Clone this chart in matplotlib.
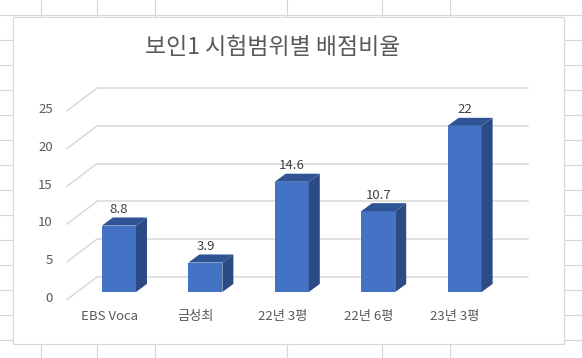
import matplotlib
matplotlib.use("Agg")
import matplotlib.pyplot as plt
from matplotlib.patches import Polygon, Rectangle
from matplotlib.lines import Line2D

plt.rcParams['font.family'] = ['Noto Sans CJK KR', 'DejaVu Sans']

# dados
categorias = ['EBS Voca', '금성최', '22년 3평', '22년 6평', '23년 3평']
valores = [8.8, 3.9, 14.6, 10.7, 22]
ticks_y = [0, 5, 10, 15, 20, 25]
titulo = '보인1 시험범위별 배점비율'

W, H = 582, 358
fig = plt.figure(figsize=(W / 100, H / 100), dpi=100)
fig.patch.set_facecolor('white')

# grade da planilha ao fundo
for xg in [41, 97, 155, 287, 382, 450]:
    fig.add_artist(Line2D([xg / W, xg / W], [0, 1], color='#d6d6d6', lw=0.8, zorder=-3))
for yg in range(15, 358, 25):
    fig.add_artist(Line2D([0, 1], [1 - yg / H, 1 - yg / H], color='#d6d6d6', lw=0.8, zorder=-3))

# area do grafico
fig.add_artist(Rectangle((12.5 / W, 1 - 343.5 / H), (564 - 12.5) / W, (343.5 - 16.7) / H,
                         facecolor='white', edgecolor='#d9d9d9', lw=0.9, zorder=-2))

# eixo: plano frontal das barras (x = indice, y = valor)
ax = fig.add_axes([58.5 / W, (358 - 314.65) / H, 466.6 / W, 241.6 / H])
ax.set_zorder(1)
ax.patch.set_visible(False)
ax.set_xlim(-0.7, 4.7)
ax.set_ylim(-3, 29)
ax.axis('off')

# deslocamentos de profundidade (pseudo 3D)
by = 2.0                  # parede do fundo
x_back_l, x_back_r = -0.255, 4.734
x_front_l, fy = -0.602, -1.0
largura = 0.394
ddx, ddy = 0.127, 1.07    # profundidade da barra

cinza = '#d9d9d9'
for t in ticks_y:
    ax.plot([x_back_l, x_back_r], [t + by, t + by], color=cinza, lw=1.1, clip_on=False, zorder=1)
    ax.plot([x_front_l, x_back_l], [t + fy, t + by], color=cinza, lw=1.1, clip_on=False, zorder=1)
    ax.text(x_front_l - 0.165, t + fy + 0.15, str(t), ha='right', va='center',
            fontsize=9.5, color='#595959')

frente, lado, topo = '#4472C4', '#2C4B86', '#2F5496'
xs = list(range(len(categorias)))
ax.bar(xs, valores, width=largura, color=frente, zorder=3, clip_on=False)
for x, v in zip(xs, valores):
    xl, xr = x - largura / 2, x + largura / 2
    ax.add_patch(Polygon([(xl, v), (xr, v), (xr + ddx, v + ddy), (xl + ddx, v + ddy)],
                         closed=True, facecolor=topo, edgecolor='none', zorder=3, clip_on=False))
    ax.add_patch(Polygon([(xr, 0), (xr + ddx, ddy), (xr + ddx, v + ddy), (xr, v)],
                         closed=True, facecolor=lado, edgecolor='none', zorder=3, clip_on=False))
    ax.text(x, v + ddy + 0.2, f'{v:g}', ha='center', va='bottom', fontsize=9.5,
            color='#404040', zorder=4)

for x, c in zip(xs, categorias):
    ax.text(x - 0.11, -3.3, c, ha='center', va='center', fontsize=9.5, color='#595959')

fig.text(272.5 / W, 1 - 47 / H, titulo, ha='center', va='center', fontsize=16.5,
         fontweight='light', color='#595959', zorder=2)

fig.savefig('out.png', dpi=100)
